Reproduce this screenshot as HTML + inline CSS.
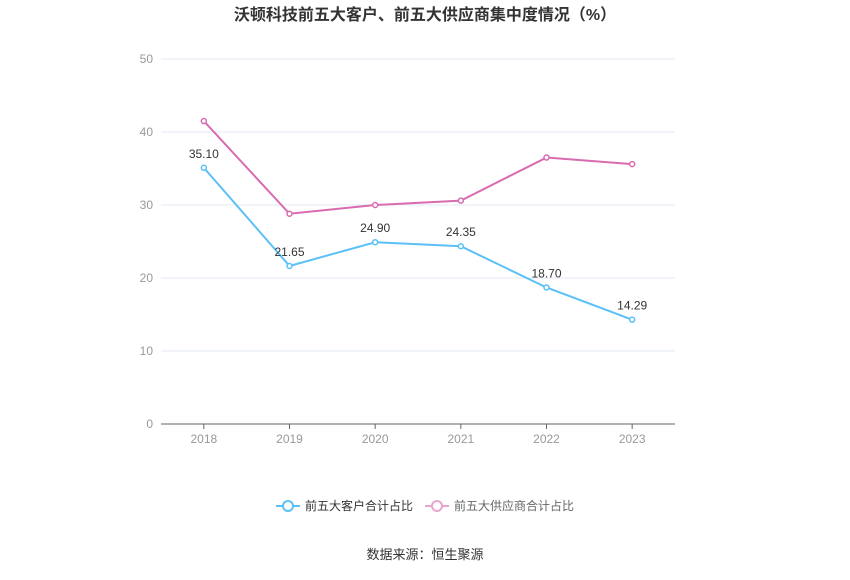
<!DOCTYPE html>
<html><head><meta charset="utf-8"><style>
body{margin:0;background:#fff;font-family:"Liberation Sans","Noto Sans CJK SC",sans-serif;}
</style></head><body>
<svg width="850" height="575" xmlns="http://www.w3.org/2000/svg" id="chart">
<text x="425" y="20" text-anchor="middle" font-size="16" font-weight="bold" fill="#333" font-family="Liberation Sans,Noto Sans CJK SC,sans-serif">沃顿科技前五大客户、前五大供应商集中度情况（%）</text>
<g id="grid"></g><g id="axes"></g><g id="series"></g>
<g>
<g>
<line x1="276" y1="506" x2="300" y2="506" stroke="#5bc0f8" stroke-width="2"/><circle cx="288" cy="506" r="5" fill="#fff" stroke="#5bc0f8" stroke-width="2"/>
<text x="305" y="510" font-size="12" fill="#333">前五大客户合计占比</text></g>
<g>
<line x1="425" y1="506" x2="449" y2="506" stroke="#e8a5d0" stroke-width="2"/><circle cx="437" cy="506" r="5" fill="#fff" stroke="#e8a5d0" stroke-width="2"/>
<text x="454" y="510" font-size="12" fill="#666">前五大供应商合计占比</text></g>
</g>
<text x="425" y="559" text-anchor="middle" font-size="13" fill="#333">数据来源：恒生聚源</text>
</svg>
<script>
const categories=["2018","2019","2020","2021","2022","2023"];
const customers=[35.10,21.65,24.90,24.35,18.70,14.29];
const suppliers=[41.5,28.8,30.0,30.6,36.5,35.6];
const yTicks=[0,10,20,30,40,50];
const NS="http://www.w3.org/2000/svg";
const L=161,R=675,T=59,B=424;
const step=(R-L)/categories.length;
const x=i=>L+step*(i+0.5);
const y=v=>B-(v/50)*(B-T);
function mk(tag,attrs,parent,txt){const e=document.createElementNS(NS,tag);for(const k in attrs)e.setAttribute(k,attrs[k]);if(txt!==undefined)e.textContent=txt;document.getElementById(parent).appendChild(e);return e;}
yTicks.forEach(t=>{
 if(t>0){const g=mk('line',{x1:L,x2:R,y1:y(t),y2:y(t),stroke:'#e3e8f0','stroke-width':1},'grid');
 
 }
 const lb=mk('text',{x:L-8,y:y(t)+4,'text-anchor':'end','font-size':12,fill:'#999'},'axes',t);
 
 
});
const ax=mk('line',{x1:L,x2:R,y1:B,y2:B,stroke:'#666','stroke-width':1},'axes');


categories.forEach((c,i)=>{
 const tk=mk('line',{x1:x(i),x2:x(i),y1:B,y2:B+5,stroke:'#666'},'axes');
 
 
 const lb=mk('text',{x:x(i),y:B+19,'text-anchor':'middle','font-size':12,fill:'#999'},'axes',c);
 
 
});
function series(vals,color,name,labels){
 const p=mk('polyline',{points:vals.map((v,i)=>x(i)+','+y(v)).join(' '),fill:'none',stroke:color,'stroke-width':2},'series');
 
 
 vals.forEach((v,i)=>{
  const c=mk('circle',{cx:x(i),cy:y(v),r:2.5,fill:'#fff',stroke:color,'stroke-width':1.5},'series');
  
  
  if(labels){const t=mk('text',{x:x(i),y:y(v)-10,'text-anchor':'middle','font-size':12,fill:'#333'},'series',v.toFixed(2));
  
  }
 });
}
series(suppliers,'#d96bb0','suppliers',false);
series(customers,'#5bc0f8','customers',true);
</script>
</body></html>
